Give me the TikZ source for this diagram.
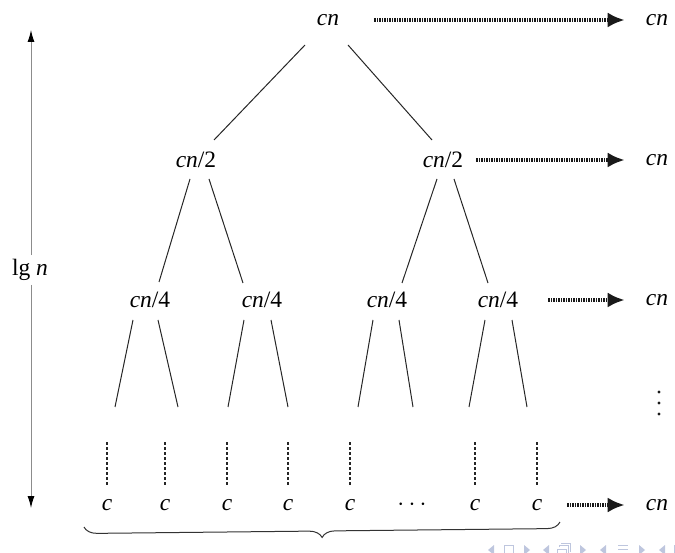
\documentclass[tikz,border=0pt]{standalone}
\usepackage{fontspec}
\setmainfont{Liberation Serif}
\usetikzlibrary{arrows.meta,decorations.pathreplacing}
\definecolor{navc}{RGB}{190,198,222}
\begin{document}
\begin{tikzpicture}[x=1pt,y=-1pt,
  lbl/.style={font=\fontsize{23.5}{26}\selectfont, inner sep=1pt},
  edge/.style={draw=black!85, line width=1pt},
  dotarrow/.style={draw=black!90, line width=3.6pt, dash pattern=on 1.3pt off 1.2pt, -{Latex[length=17pt,width=15pt]}},
  vdash/.style={draw=black!85, line width=1.1pt, dash pattern=on 3pt off 2pt},
  axis/.style={draw=black!45, line width=1pt},
  navshape/.style={fill=navc, draw=none},
  navline/.style={draw=navc, line width=1pt}
]
\useasboundingbox (0,0) rectangle (675,553);

% tree nodes
\node[lbl] (root) at (328,20) {\textit{cn}};
\node[lbl] (l1a) at (196,160) {\textit{cn}/2};
\node[lbl] (l1b) at (443,160) {\textit{cn}/2};
\node[lbl] (l2a) at (150,300) {\textit{cn}/4};
\node[lbl] (l2b) at (262,300) {\textit{cn}/4};
\node[lbl] (l2c) at (387,300) {\textit{cn}/4};
\node[lbl] (l2d) at (498,300) {\textit{cn}/4};

% leaves
\node[lbl] (c1) at (107,505) {\textit{c}};
\node[lbl] (c2) at (165,505) {\textit{c}};
\node[lbl] (c3) at (227,505) {\textit{c}};
\node[lbl] (c4) at (288,505) {\textit{c}};
\node[lbl] (c5) at (350,505) {\textit{c}};
\node[lbl] (cd) at (412,505) {$\cdots$};
\node[lbl] (c6) at (475,505) {\textit{c}};
\node[lbl] (c7) at (537,505) {\textit{c}};

% right column
\node[lbl] (r0) at (657,20) {\textit{cn}};
\node[lbl] (r1) at (657,160) {\textit{cn}};
\node[lbl] (r2) at (657,300) {\textit{cn}};
\node[lbl] (r3) at (657,505) {\textit{cn}};
\coordinate (rd) at (659,403);
\foreach \dy in {-11,0,11}
  \fill[black!90] ([yshift=\dy]rd) circle (1.7);

% left label and arrow
\node[lbl, inner sep=4pt] (lg) at (30,270) {lg \textit{n}};
\coordinate (ltop) at (31,30);
\coordinate (lbot) at (31,508);
\draw[axis, -{Latex[length=12pt,width=7pt,color=black]}] (lg.north -| ltop) -- (ltop);
\draw[axis, -{Latex[length=12pt,width=7pt,color=black]}] (lg.south -| lbot) -- (lbot);

% edges level 0 -> 1
\draw[edge] ([shift={(-23,25)}]root.center) -- ([shift={(18,-20)}]l1a.center);
\draw[edge] ([shift={(20,25)}]root.center) -- ([shift={(-11,-20)}]l1b.center);

% edges level 1 -> 2
\draw[edge] ([shift={(-6,19)}]l1a.center) -- ([shift={(9,-18)}]l2a.center);
\draw[edge] ([shift={(13,19)}]l1a.center) -- ([shift={(-19,-17)}]l2b.center);
\draw[edge] ([shift={(-6,19)}]l1b.center) -- ([shift={(15,-17)}]l2c.center);
\draw[edge] ([shift={(11,19)}]l1b.center) -- ([shift={(-10,-17)}]l2d.center);

% edges level 2 -> 3 (free ends)
\coordinate (e1) at (115,407); \coordinate (e2) at (178,407);
\coordinate (e3) at (228,407); \coordinate (e4) at (288,407);
\coordinate (e5) at (358,407); \coordinate (e6) at (413,407);
\coordinate (e7) at (469,407); \coordinate (e8) at (527,407);
\draw[edge] ([shift={(-17,20)}]l2a.center) -- (e1);
\draw[edge] ([shift={(8,20)}]l2a.center) -- (e2);
\draw[edge] ([shift={(-18,20)}]l2b.center) -- (e3);
\draw[edge] ([shift={(9,20)}]l2b.center) -- (e4);
\draw[edge] ([shift={(-14,20)}]l2c.center) -- (e5);
\draw[edge] ([shift={(12,20)}]l2c.center) -- (e6);
\draw[edge] ([shift={(-13,20)}]l2d.center) -- (e7);
\draw[edge] ([shift={(14,20)}]l2d.center) -- (e8);

% vertical dashed lines above leaves
\foreach \n in {c1,c2,c3,c4,c5,c6,c7}
  \draw[vdash] ([yshift=63]\n.center) -- ([yshift=20]\n.center);

% horizontal dotted arrows
\draw[dotarrow] ([xshift=34]root.east) -- ([xshift=-20]r0.west);
\draw[dotarrow] ([xshift=12]l1b.east) -- ([xshift=-20]r1.west);
\draw[dotarrow] ([xshift=29]l2d.east) -- ([xshift=-20]r2.west);
\draw[dotarrow] ([xshift=24]c7.east) -- ([xshift=-20]r3.west);

% brace
\draw[black!80, line width=1pt, decorate, decoration={brace, mirror, amplitude=13pt}]
  (84,527) -- (560,522);

% beamer navigation symbols (cut at the bottom edge)
\fill[navshape] (494,545) -- (494,555) -- (488,550) -- cycle;
\draw[navline] (504,545) rectangle (513,556);
\fill[navshape] (524,545) -- (524,555) -- (530,550) -- cycle;
\fill[navshape] (549,545) -- (549,555) -- (543,550) -- cycle;
\draw[navline] (557,549) rectangle (566,556);
\draw[navline] (559,547) -- (559,545.5) -- (568,545.5) -- (568,554) -- (566.5,554);
\draw[navline] (561,543.5) -- (570,543.5) -- (570,552);
\fill[navshape] (580,545) -- (580,555) -- (586,550) -- cycle;
\fill[navshape] (606,545) -- (606,555) -- (600,550) -- cycle;
\draw[navline] (618,545) -- (628,545);
\draw[navline] (618,549) -- (628,549);
\draw[navline] (618,553) -- (628,553);
\fill[navshape] (639,545) -- (639,555) -- (645,550) -- cycle;
\fill[navshape] (665,545) -- (665,555) -- (659,550) -- cycle;
\draw[navline] (674,545) -- (674,556);
\end{tikzpicture}
\end{document}
